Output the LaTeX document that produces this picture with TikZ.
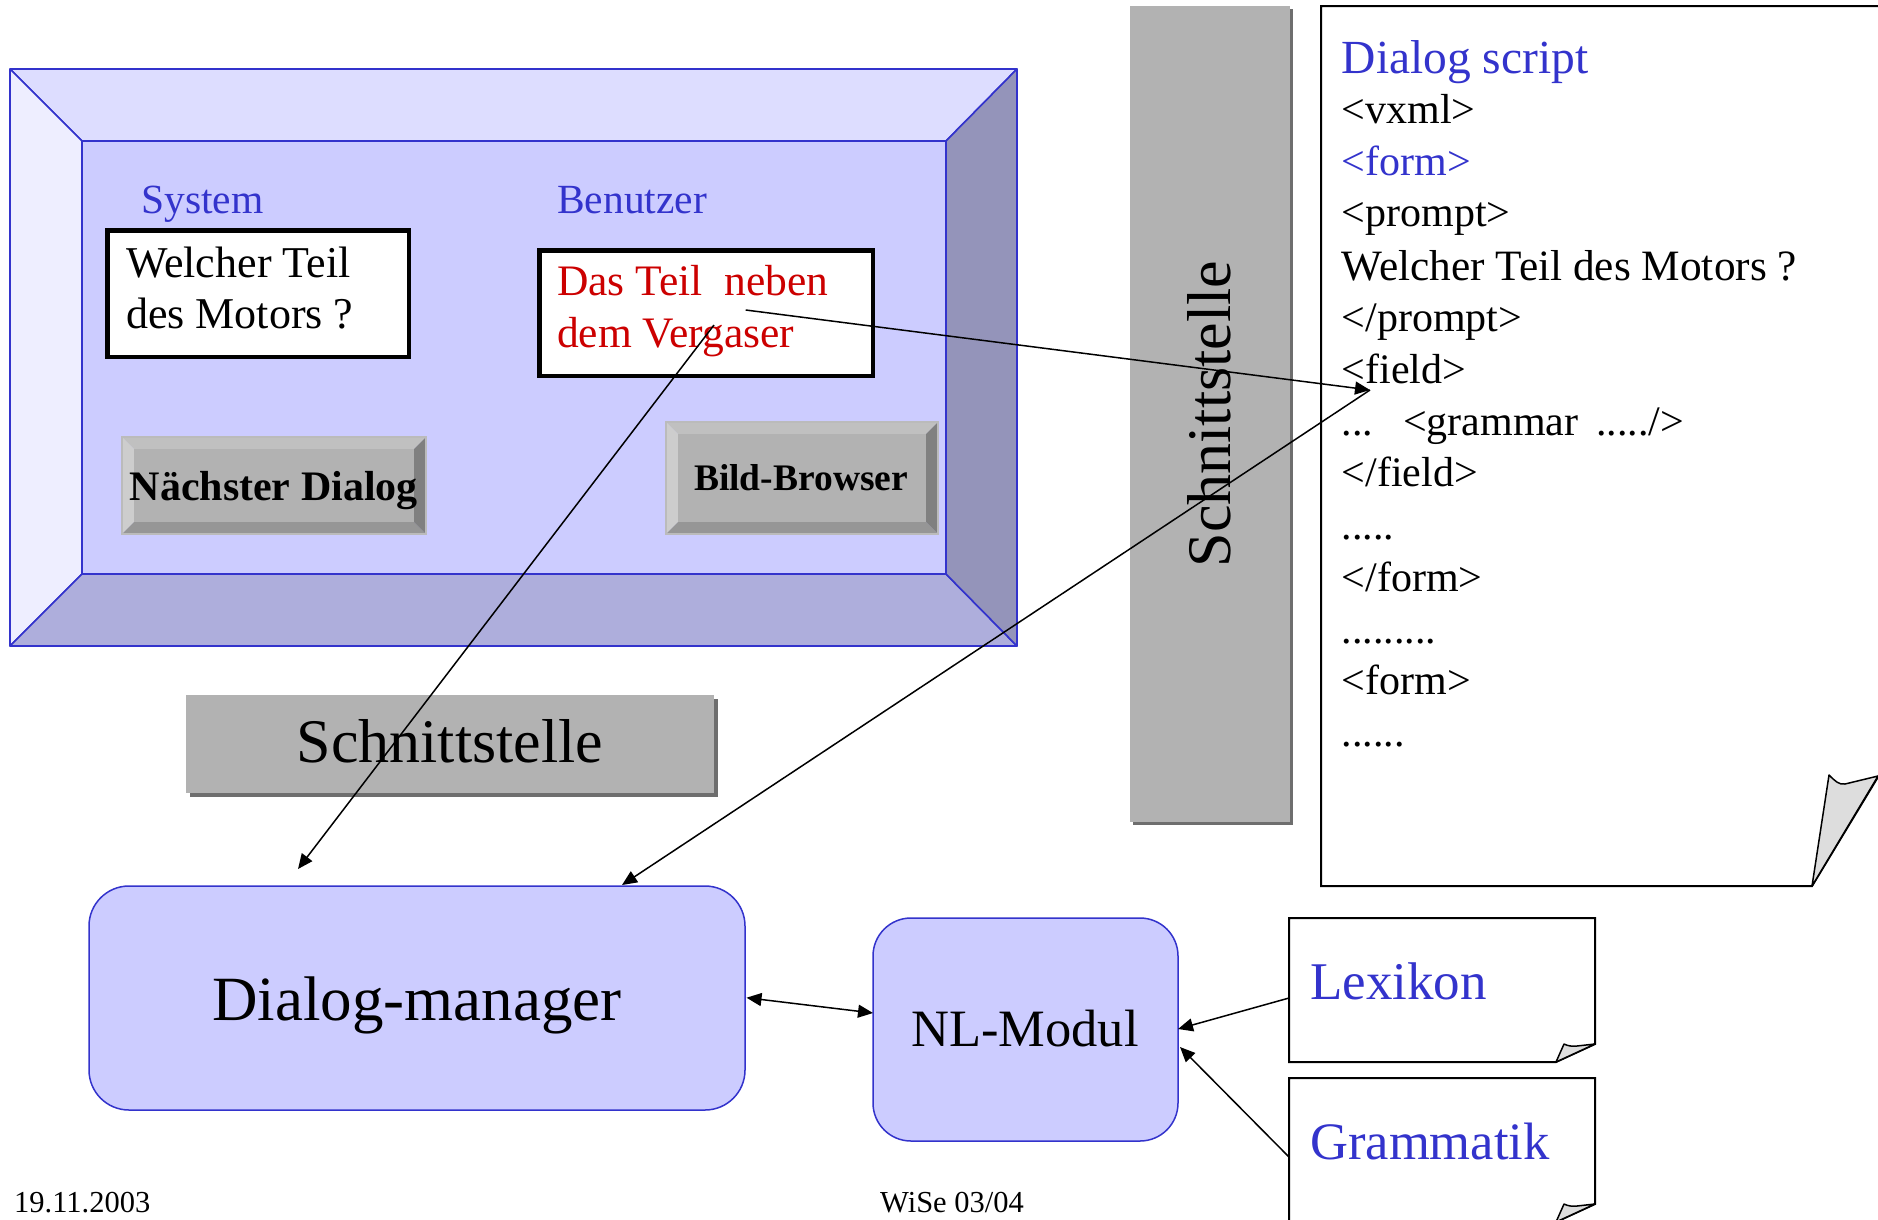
\documentclass[tikz,border=0pt]{standalone}
\usepackage{fontspec}
\setmainfont{Liberation Serif}
\usetikzlibrary{arrows.meta}
\definecolor{bl}{RGB}{51,51,204}
\definecolor{rd}{RGB}{204,0,0}
\definecolor{fin}{RGB}{204,204,255}
\definecolor{ftop}{RGB}{221,221,255}
\definecolor{fleft}{RGB}{238,238,255}
\definecolor{fbot}{RGB}{174,174,220}
\definecolor{fright}{RGB}{148,148,186}
\definecolor{gmid}{RGB}{178,178,178}
\definecolor{gtop}{RGB}{192,192,192}
\definecolor{gleft}{RGB}{205,205,205}
\definecolor{gbot}{RGB}{150,150,150}
\definecolor{gright}{RGB}{128,128,128}
\definecolor{gedge}{RGB}{187,187,187}
\definecolor{gshadow}{RGB}{110,110,110}
\definecolor{flap}{RGB}{221,221,221}
\newcommand\myfs[1]{\fontsize{#1}{#1}\selectfont}
\newcommand\bevbtn[5]{%
  \fill[gtop] (#1,#2) -- (#3,#2) -- ({#3-#5},{#2+#5}) -- ({#1+#5},{#2+#5}) -- cycle;
  \fill[gleft] (#1,#2) -- ({#1+#5},{#2+#5}) -- ({#1+#5},{#4-#5}) -- (#1,#4) -- cycle;
  \fill[gbot] (#1,#4) -- ({#1+#5},{#4-#5}) -- ({#3-#5},{#4-#5}) -- (#3,#4) -- cycle;
  \fill[gright] (#3,#2) -- ({#3-#5},{#2+#5}) -- ({#3-#5},{#4-#5}) -- (#3,#4) -- cycle;
  \fill[gmid] ({#1+#5},{#2+#5}) rectangle ({#3-#5},{#4-#5});
  \draw[gedge, line width=1.5pt] (#1,#2) rectangle (#3,#4);}
\begin{document}
\begin{tikzpicture}[x=1pt,y=-1pt,
  frameline/.style={draw=bl, line width=1.6pt, line join=round},
  txt/.style={inner sep=0pt, anchor=base west},
  ctxt/.style={inner sep=0pt, anchor=base},
  wbox/.style={draw=black, line width=4.5pt, fill=white, inner sep=0pt},
  rbox/.style={draw=bl, line width=1.5pt, fill=fin, rounded corners=40pt, inner sep=0pt},
  page/.style={draw=black, line width=2pt, fill=white, line join=miter},
  flapst/.style={draw=black, line width=1.5pt, fill=flap, line join=round},
  arr/.style={line width=1.5pt, -{Triangle[length=15pt,width=13pt]}},
  darr/.style={line width=1.5pt, {Triangle[length=15pt,width=13pt]}-{Triangle[length=15pt,width=13pt]}}
]
\useasboundingbox (0,0) rectangle (1878,1219);
\fill[white] (0,0) rectangle (1878,1219);

% ---- bevelled frame
\path[frameline, fill=ftop] (10,69) -- (1017,69) -- (946,141) -- (82,141) -- cycle;
\path[frameline, fill=fleft] (10,69) -- (82,141) -- (82,574) -- (10,646) -- cycle;
\path[frameline, fill=fbot] (10,646) -- (82,574) -- (946,574) -- (1017,646) -- cycle;
\path[frameline, fill=fright] (1017,69) -- (946,141) -- (946,574) -- (1017,646) -- cycle;
\node[frameline, fill=fin, inner sep=0pt, minimum width=864pt, minimum height=433pt] (inner) at (514,357.5) {};

\node[txt, text=bl, font=\myfs{41.5}] (lsys) at (141,213) {System};
\node[txt, text=bl, font=\myfs{41.5}] (lben) at (557,213) {Benutzer};

\node[wbox, minimum width=301.5pt, minimum height=126.5pt] (sysbox) at (258,293.5) {};
\node[txt, font=\myfs{44}] (sys1) at (126,277) {Welcher Teil};
\node[txt, font=\myfs{44}] (sys2) at (126,328) {des Motors ?};

\node[wbox, minimum width=333.5pt, minimum height=125.5pt] (benbox) at (706,313) {};
\node[txt, text=rd, font=\myfs{43.5}] (ben1) at (557,295) {Das Teil\ \ neben};
\node[txt, text=rd, font=\myfs{43.5}] (ben2) at (557,347) {dem Vergaser};

\bevbtn{122}{437}{426}{534}{12}
\node[txt, font=\myfs{42}\bfseries] (bnext) at (129.5,500) {Nächster Dialog};
\bevbtn{666}{422}{938}{534}{12}
\node[ctxt, font=\myfs{37.5}\bfseries] (bbild) at (801,490.5) {Bild-Browser};

% ---- Schnittstelle boxes
\fill[gshadow] (189.5,698.5) rectangle (717.5,796.5);
\node[fill=gmid, inner sep=0pt, minimum width=528pt, minimum height=98pt] (ifh) at (450,744) {};
\node[ctxt, font=\myfs{62}] (ifhl) at (450,762) {Schnittstelle};

\fill[gshadow] (1133,9) rectangle (1293,825);
\node[fill=gmid, inner sep=0pt, minimum width=160pt, minimum height=816pt] (ifv) at (1210,414) {};
\node[ctxt, font=\myfs{62}, rotate=90] (ifvl) at (1230.5,414) {Schnittstelle};

% ---- dialog script page
\path[page] (1812,886) -- (1321,886) -- (1321,6) -- (1890,6) -- (1890,757) -- cycle;
\path[flapst] (1812,886) -- (1829,775) .. controls (1835,781) and (1839,785) .. (1845,784) -- (1878,776) -- cycle;
\node[txt, text=bl, font=\myfs{47.5}] (ds0) at (1341.5,73.5) {Dialog script};
\node[txt, font=\myfs{42}] (ds1) at (1341.5,123.4) {<vxml>};
\node[txt, font=\myfs{42}, text=bl] (ds2) at (1341.5,175) {<form>};
\node[txt, font=\myfs{42}] (ds3) at (1341.5,226.7) {<prompt>};
\node[txt, font=\myfs{43.3}] (ds4) at (1341.5,280) {Welcher Teil des Motors ?};
\node[txt, font=\myfs{42}] (ds5) at (1341.5,331.8) {</prompt>};
\node[txt, font=\myfs{42}] (ds6) at (1341.5,383.5) {<field>};
\node[txt, font=\myfs{42}] (ds7) at (1341.5,435) {...\hspace{30pt}<grammar\hspace{18pt}...../>};
\node[txt, font=\myfs{42}] (ds8) at (1341.5,486.8) {</field>};
\node[txt, font=\myfs{42}] (ds9) at (1341.5,539.6) {.....};
\node[txt, font=\myfs{42}] (ds10) at (1341.5,591) {</form>};
\node[txt, font=\myfs{42}] (ds11) at (1341.5,643) {.........};
\node[txt, font=\myfs{42}] (ds12) at (1341.5,694.6) {<form>};
\node[txt, font=\myfs{42}] (ds13) at (1341.5,746) {......};

% ---- Lexikon / Grammatik pages
\path[page] (1556,1062) -- (1289,1062) -- (1289,918) -- (1595,918) -- (1595,1044) -- cycle;
\path[flapst] (1556,1062) -- (1564,1044) .. controls (1568,1046) and (1572,1046.5) .. (1577,1046) -- (1595,1044) -- cycle;
\node[txt, text=bl, font=\myfs{53}] (lex) at (1310,999) {Lexikon};

\path[page] (1556,1222) -- (1289,1222) -- (1289,1078) -- (1595,1078) -- (1595,1204) -- cycle;
\path[flapst] (1556,1222) -- (1564,1204) .. controls (1568,1206) and (1572,1206.5) .. (1577,1206) -- (1595,1204) -- cycle;
\node[txt, text=bl, font=\myfs{52.6}] (gram) at (1310,1159) {Grammatik};

% ---- Dialog-manager and NL-Modul
\node[rbox, minimum width=656pt, minimum height=224pt] (dm) at (417,998) {};
\node[ctxt, font=\myfs{63}] (dml) at (417,1020) {Dialog-manager};
\node[rbox, rounded corners=38pt, minimum width=305pt, minimum height=223pt] (nl) at (1025.5,1029.5) {};
\node[ctxt, font=\myfs{52.5}] (nll) at (1025,1046.7) {NL-Modul};

% ---- footer
\node[txt, font=\myfs{30.5}] (date) at (14,1212) {19.11.2003};
\node[txt, font=\myfs{30.5}] (term) at (880,1212) {WiSe 03/04};

% ---- connectors
\coordinate (c1) at (714,325);
\coordinate (t1) at (298,869);
\coordinate (c2) at (745.7,310);
\coordinate (field) at (1370,390);
\coordinate (t3) at (622,885);
\coordinate (dmr) at (746.5,997.7);
\coordinate (nll2) at (873,1013);
\coordinate (lexo) at (1289,998);
\coordinate (nlr1) at (1178,1029);
\coordinate (gro) at (1289,1157);
\coordinate (nlr2) at (1180,1047);

\draw[arr] (c1) -- (t1);
\draw[arr] (c2) -- (field);
\draw[arr] (field) -- (t3);
\draw[darr] (dmr) -- (nll2);
\draw[arr] (lexo) -- (nlr1);
\draw[arr] (gro) -- (nlr2);
\end{tikzpicture}
\end{document}
